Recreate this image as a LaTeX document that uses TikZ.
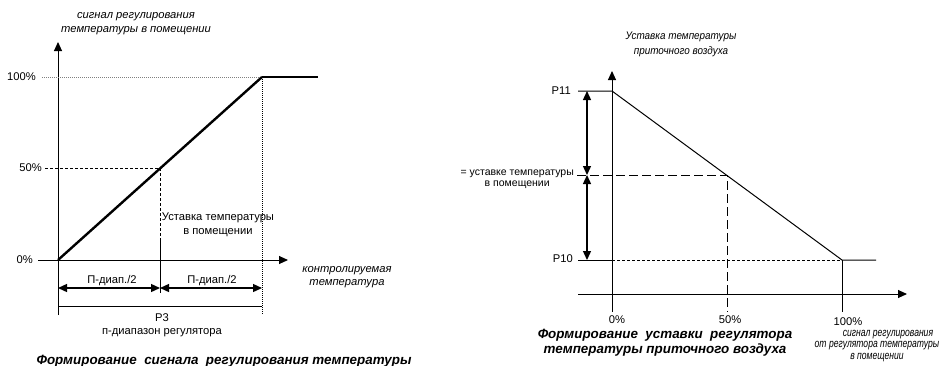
\documentclass[tikz,border=0pt]{standalone}
\usepackage{fontspec}
\setmainfont{Liberation Sans}
\newfontfamily\narrowsans[FakeStretch=0.74]{Liberation Sans}
\newfontfamily\semisans[FakeStretch=0.9]{Liberation Sans}
\usetikzlibrary{arrows.meta}
\tikzset{
  thin line/.style={line width=1pt},
  thick line/.style={line width=2.4pt},
  axis/.style={line width=1pt,-{Triangle[length=9pt,width=8pt]}},
  dimarrow/.style={line width=1.3pt,{Triangle[length=9pt,width=8pt]}-{Triangle[length=9pt,width=8pt]}},
  dots/.style={line width=0.9pt,dash pattern=on 1pt off 1pt},
  sdash/.style={line width=1pt,dash pattern=on 3pt off 2pt},
  ldash/.style={line width=1pt,dash pattern=on 9pt off 4pt},
  lbl/.style={inner sep=0pt,font=\fontsize{11.2}{13.5}\selectfont},
  ilbl/.style={inner sep=0pt,font=\fontsize{11.2}{13.5}\selectfont\itshape,align=center},
  captext/.style={inner sep=0pt,font=\fontsize{13.4}{15}\selectfont\bfseries\itshape,align=center}
}
\begin{document}
\begin{tikzpicture}[x=1pt,y=-1pt]
\useasboundingbox (0,0) rectangle (947,365);
% ---------- left diagram ----------
\coordinate (Ytop1) at (58,42);
\coordinate (Ybot1) at (58,315);
\coordinate (O1) at (58,260);
\coordinate (Xl1) at (38,260);
\coordinate (Xr1) at (288,260);
\coordinate (H100l) at (42,77);
\coordinate (H100) at (262,77);
\coordinate (H100r) at (318,77);
\coordinate (H50l) at (45,168);
\coordinate (M50) at (160,168);
\coordinate (M50b) at (160,240);
\coordinate (M50c) at (160,293);
\coordinate (R100b) at (262,315);
\coordinate (A1) at (58,288);
\coordinate (A2) at (160,288);
\coordinate (A3) at (262,288);
\coordinate (B1) at (58,306);
\coordinate (B2) at (262,306);

\draw[axis] (Ybot1) -- (Ytop1);
\draw[axis] (Xl1) -- (Xr1);
\draw[dots,gray] (H100l) -- (H100);
\draw[thick line] (H100) -- (H100r);
\draw[thick line] (O1) -- (H100);
\draw[dots] (H100) -- (R100b);
\draw[sdash] (H50l) -- (M50) -- (M50b);
\draw[thin line] (M50b) -- (M50c);
\draw[dimarrow] (A1) -- (A2);
\draw[dimarrow] (A2) -- (A3);
\draw[thin line] (B1) -- (B2);

\node[lbl,anchor=east] (t100) at (36,77) {100\%};
\node[lbl,anchor=east] (t50) at (42,168) {50\%};
\node[lbl,anchor=east] (t0) at (33,260) {0\%};
\node[ilbl] (ylab1) at (136,23.5) {сигнал регулирования\\температуры в помещении};
\node[lbl,align=center] (setp1) at (218,225) {Уставка температуры\\в помещении};
\node[ilbl] (xlab1) at (347,277) {контролируемая\\температура};
\node[lbl] (pd1) at (112,281) {П-диап./2};
\node[lbl] (pd2) at (212,281) {П-диап./2};
\node[lbl,align=center] (p3) at (162,325) {P3\\п-диапазон регулятора};
\node[captext,anchor=base] (cap1) at (224,364) {Формирование\ \ сигнала\ \ регулирования температуры};

% ---------- right diagram ----------
\coordinate (Ytop2) at (612,71);
\coordinate (Ybot2) at (612,312);
\coordinate (P11l) at (578,91);
\coordinate (P11) at (612,91);
\coordinate (P10l) at (578,260);
\coordinate (P10) at (612,260);
\coordinate (E) at (842,260);
\coordinate (Er) at (876,260);
\coordinate (Eb) at (842,312);
\coordinate (Sl) at (577,175);
\coordinate (S) at (727,175);
\coordinate (Sb) at (727,312);
\coordinate (Xl2) at (578,294);
\coordinate (Xr2) at (907,294);
\coordinate (D1) at (587,91);
\coordinate (D2) at (587,175);
\coordinate (D3) at (587,260);

\draw[axis] (Ybot2) -- (Ytop2);
\draw[axis] (Xl2) -- (Xr2);
\draw[thin line] (P11l) -- (P11) -- (E) -- (Er);
\draw[thin line] (P10l) -- (P10);
\draw[sdash] (P10) -- (E);
\draw[thin line] (E) -- (Eb);
\draw[ldash] (Sl) -- (S) -- (Sb);
\draw[dimarrow] (D1) -- (D2);
\draw[dimarrow] (D2) -- (D3);

\node[lbl,anchor=east] (tP11) at (571,91) {P11};
\node[lbl,anchor=east] (tP10) at (573,259) {P10};
\node[inner sep=0pt,font=\fontsize{10.5}{11}\selectfont,align=center,anchor=north east] (eq) at (574,169.5) {= уставке температуры\\в помещении};
\node[inner sep=0pt,font=\semisans\fontsize{11}{15}\selectfont\itshape,align=center] (ylab2) at (681,44) {Уставка температуры\\приточного воздуха};
\node[lbl] (x0) at (617,320) {0\%};
\node[lbl] (x50) at (730,320) {50\%};
\node[lbl] (x100) at (848,322) {100\%};
\node[inner sep=0pt,font=\narrowsans\fontsize{11.6}{11.7}\selectfont\itshape,align=center] (xlab2) at (877,346) {\hspace*{22pt}сигнал регулирования\\от регулятора температуры\\в помещении};
\node[captext] (cap2) at (665,343) {Формирование\ \ уставки\ \ регулятора\\температуры приточного воздуха};
\end{tikzpicture}
\end{document}
